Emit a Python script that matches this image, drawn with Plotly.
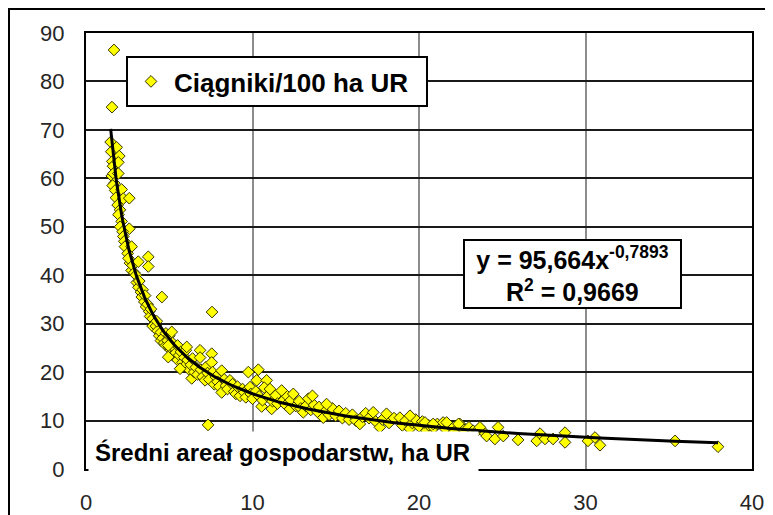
import plotly.graph_objects as go

# Średni areał gospodarstw (ha UR) vs ciągniki/100 ha UR
x_area = [
    1.68, 1.56,
    1.48, 1.52, 1.58, 1.84, 2.00, 1.62, 1.94, 1.55, 1.65, 1.94, 1.70, 1.60, 1.75, 2.14, 1.80, 2.24,
    2.60, 1.90, 2.04, 1.95, 2.14, 2.05, 2.60, 2.20, 2.24, 2.30, 2.40, 2.34, 2.74, 2.50, 2.64, 2.74, 2.55,
    2.80, 2.90, 3.00, 3.14, 3.74, 3.74, 3.05, 3.15, 3.20, 3.30, 3.35, 3.40, 3.50, 3.55, 3.60, 3.70, 3.80,
    3.85, 3.90, 4.00, 4.10, 4.00,
    4.56, 4.20, 4.30, 4.25, 4.40, 4.50, 4.50, 4.60, 4.70, 4.80, 4.80, 4.90, 5.00, 5.00, 5.10, 5.20, 5.20,
    5.30, 5.40, 5.50, 5.50, 5.60, 5.70, 5.80, 5.90, 6.00, 6.00, 6.10, 6.20, 5.15, 4.94, 4.94, 5.65,
    6.05, 6.35, 6.30, 6.40, 6.50, 6.60, 6.70, 6.85, 6.85, 6.90, 7.00, 7.15, 7.20, 7.30, 7.33, 7.40, 7.55,
    7.55, 7.57, 7.60, 7.70, 7.80, 7.90, 8.00, 8.15, 8.15, 8.30, 8.40, 8.50, 8.65, 8.80, 8.90, 9.00, 9.10,
    9.25, 9.40, 9.50, 9.60, 9.75, 9.85, 9.90, 10.00,
    10.35, 10.25, 10.85, 10.55, 10.20, 10.40, 10.60, 10.70, 10.90, 11.05, 11.15, 11.20, 11.40, 11.50,
    11.75, 11.80, 12.00, 12.10, 12.25, 12.30, 12.45, 12.60, 12.80, 12.90, 13.05, 13.20, 13.35, 13.50,
    13.70, 13.90, 14.00, 14.25, 14.40, 14.60, 14.80, 15.00, 14.45, 13.60,
    15.20, 15.40, 15.60, 15.80, 16.00, 16.20, 16.45, 16.60, 16.80, 17.00, 17.25, 17.40, 17.65, 17.80,
    18.05, 18.20, 18.50, 18.85, 19.00, 19.20, 19.45, 19.60, 19.80, 20.00, 19.46,
    20.20, 20.45, 20.60, 20.90, 21.10, 21.45, 21.60, 21.90, 22.10, 22.45, 22.70, 23.00, 23.25, 23.50,
    23.80, 20.36, 20.85, 21.66, 22.37, 23.66,
    24.06, 24.56, 24.75, 25.06, 25.95, 27.07, 27.27, 27.57, 28.05, 28.77, 28.77, 30.15, 30.57, 30.87,
    35.38, 37.96,
]
y_tractors = [
    86.5, 74.7,
    67.5, 65.5, 63.5, 66.4, 64.6, 62.5, 63.3, 60.5, 61.0, 61.0, 59.0, 58.5, 57.5, 57.7, 56.0, 55.8,
    55.9, 54.5, 53.5, 52.5, 51.1, 50.0, 49.6, 49.0, 48.0, 47.0, 46.0, 45.9, 45.9, 44.5, 42.5, 41.0, 43.5,
    42.0, 40.5, 40.0, 42.8, 43.8, 41.8, 38.5, 37.5, 38.8, 36.5, 35.5, 37.0, 34.5, 35.8, 33.5, 34.0, 32.5,
    31.5, 33.0, 31.0, 30.0, 29.5,
    35.5, 29.5, 28.5, 30.5, 27.5, 28.2, 26.5, 27.0, 26.0, 28.0, 25.5, 26.5, 25.0, 27.5, 24.5, 26.0, 23.5,
    25.0, 24.0, 22.5, 25.5, 23.5, 24.2, 22.0, 23.0, 21.5, 24.5, 22.5, 20.5, 28.3, 25.5, 23.1, 20.7,
    25.2, 18.7, 21.5, 22.8, 20.0, 21.0, 19.5, 24.5, 23.0, 20.5, 19.0, 18.3, 21.0, 19.8, 9.1, 18.5, 23.8,
    22.0, 32.4, 20.0, 17.5, 19.0, 18.0, 17.0, 20.3, 15.8, 18.5, 17.2, 16.5, 18.3, 17.5, 16.0, 15.5, 17.0,
    15.1, 16.5, 15.8, 14.8, 20.0, 16.9, 15.5, 14.5,
    20.5, 18.3, 18.3, 12.9, 16.0, 15.0, 14.2, 16.8, 15.0, 16.5, 12.4, 14.0, 15.2, 13.5,
    16.2, 14.0, 13.2, 15.0, 12.4, 14.2, 15.5, 13.0, 14.0, 12.5, 11.7, 13.0, 14.5, 12.2,
    13.2, 11.8, 12.8, 10.6, 12.0, 11.2, 12.5, 11.0, 13.4, 15.1,
    12.0, 10.5, 11.5, 10.2, 11.2, 10.0, 9.3, 10.8, 11.5, 10.5, 11.7, 9.8, 8.6, 10.2,
    11.4, 9.5, 10.5, 10.6, 9.0, 10.0, 8.3, 9.5, 10.2, 8.8, 11.0,
    9.8, 7.9, 9.0, 8.5, 9.3, 9.6, 8.2, 8.8, 7.6, 9.3, 8.1, 8.6, 7.9, 7.9,
    7.9, 9.6, 9.3, 9.6, 9.3, 8.6,
    6.8, 6.2, 8.6, 6.8, 6.0, 5.8, 7.3, 6.2, 6.2, 7.5, 5.5, 5.8, 6.5, 4.9,
    5.8, 4.6,
]

series_name = "Ciągniki/100 ha UR"
x_title = "Średni areał gospodarstw, ha UR"
trend_a = 95.664
trend_b = -0.7893
r_squared = 0.9669

x_ticks = [0, 10, 20, 30, 40]
y_ticks = [0, 10, 20, 30, 40, 50, 60, 70, 80, 90]

# power trendline y = a * x^b evaluated at the data x positions
x_sorted = sorted(set(x_area))
y_trend = [trend_a * xv ** trend_b for xv in x_sorted]

FONT = "Liberation Sans, Arial, sans-serif"

# page body has an 8px margin: figure is 8px smaller, screen coords -> paper via PX/PY
PL, PT, PW, PH = 86, 33, 666, 436  # plot area in screen px


def PX(sx):
    return (sx - PL) / PW


def PY(sy):
    return (PT + PH - sy) / PH


fig = go.Figure()
fig.add_trace(go.Scatter(
    x=x_area, y=y_tractors, mode="markers", name=series_name,
    marker=dict(symbol="diamond", size=9, color="#ffff00",
                line=dict(color="#333300", width=1)),
    showlegend=True,
))
fig.add_trace(go.Scatter(
    x=x_sorted, y=y_trend, mode="lines", name="trend",
    line=dict(color="black", width=3), showlegend=False,
))

fig.update_layout(
    width=765, height=507,
    margin=dict(l=PL - 8, r=765 - (PL - 8 + PW), t=PT - 8, b=507 - (PT - 8 + PH), autoexpand=False),
    paper_bgcolor="white", plot_bgcolor="white",
    font=dict(family=FONT, size=22, color="#262626"),
    legend=dict(
        x=PX(126), y=PY(56), xanchor="left", yanchor="top",
        bgcolor="white", bordercolor="black", borderwidth=2,
        font=dict(family=FONT, size=26, color="black", weight="bold"),
        itemsizing="trace", itemwidth=36,
        orientation="h", entrywidth=247,
    ),
    xaxis=dict(
        range=[0, 40], tickvals=x_ticks, showgrid=True, gridcolor="#8c8c8c", gridwidth=1.5,
        showline=True, linecolor="black", linewidth=2, mirror=True, zeroline=False,
        ticks="outside", ticklen=4, tickcolor="rgba(0,0,0,0)", ticklabelstandoff=9,
        automargin=False,
    ),
    yaxis=dict(
        range=[0, 90], tickvals=y_ticks, showgrid=True, gridcolor="#1a1a1a", gridwidth=2,
        showline=True, linecolor="black", linewidth=2, mirror=True, zeroline=False,
        ticks="", ticklabelstandoff=15, automargin=False,
    ),
    shapes=[
        dict(type="rect", xref="paper", yref="paper",
             x0=PX(9), x1=2, y0=-1, y1=PY(9),
             line=dict(color="black", width=2), fillcolor="rgba(0,0,0,0)", layer="below"),
    ],
    annotations=[
        dict(xref="paper", yref="paper", x=PX(572.5), y=PY(274),
             xanchor="center", yanchor="middle", showarrow=False,
             text=f"y = {str(trend_a).replace('.', ',')}x<sup>{str(trend_b).replace('.', ',')}</sup><br>"
                  f"R<sup>2</sup> = {str(r_squared).replace('.', ',')}",
             font=dict(family=FONT, size=25, color="black", weight="bold"),
             bgcolor="white", bordercolor="black", borderwidth=2, borderpad=2,
             width=211, height=62, align="center"),
        dict(xref="paper", yref="paper", x=PX(88), y=PY(452),
             xanchor="left", yanchor="middle", showarrow=False,
             text=x_title,
             font=dict(family=FONT, size=24, color="black", weight="bold"),
             bgcolor="white", borderpad=6, width=377, height=28, align="left"),
    ],
)

fig.write_html("out.html")
